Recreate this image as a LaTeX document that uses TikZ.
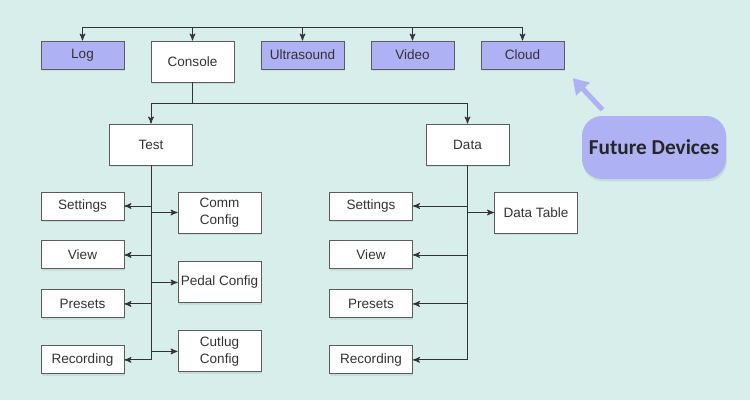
\documentclass[tikz,border=0pt]{standalone}
\usepackage{fontspec}
\setmainfont{Liberation Sans}
\newfontfamily\calfont{Carlito}
\usepackage{tikz}
\usetikzlibrary{arrows,arrows.meta}
\usetikzlibrary{positioning,shadows}
\definecolor{bgteal}{HTML}{D8EEEB}
\definecolor{lavender}{HTML}{AEB1F4}
\definecolor{linegray}{HTML}{333333}
\tikzset{
    box/.style={
           rectangle,
           draw=linegray!80, line width=0.55pt,
           fill=white,
           minimum width=1.66cm,
           minimum height=0.56cm,
           inner xsep=1pt,
           align=center,
           text=linegray,
           font=\fontsize{7.7}{9.5}\selectfont,
           drop shadow={shadow xshift=0.5pt, shadow yshift=-1.4pt,
                        opacity=0.07, fill=black},
           },
    tallbox/.style={box, minimum height=0.82cm},
    device/.style={box, fill=lavender},
    future/.style={
           rectangle,
           rounded corners=0.4cm,
           fill=lavender,
           minimum width=2.88cm,
           minimum height=1.26cm,
           text=black!85,
           font=\calfont\bfseries\fontsize{12.1}{14}\selectfont,
           drop shadow={shadow xshift=0.5pt, shadow yshift=-1.4pt,
                        opacity=0.07, fill=black},
           },
}

\begin{document}
\begin{tikzpicture}[x=0.02cm,y=-0.02cm,->,>=stealth',linegray,line width=0.5pt]
 \fill[-,bgteal] (0,0) rectangle (750,400);

 % top row
 \node[device] (log) at (82.5,55) {Log};
 \node[tallbox] (console) at (192.5,61.5) {Console};
 \node[device] (ultra) at (302.5,55) {Ultrasound};
 \node[device] (video) at (412.5,55) {Video};
 \node[device] (cloud) at (522.5,55) {Cloud};
 \coordinate (busL) at (82.5,27);
 \coordinate (busR) at (522.5,27);

 % second row
 \node[tallbox] (test) at (151,144.5) {Test};
 \node[tallbox] (data) at (467.5,144.5) {Data};
 \coordinate (split) at (192.5,103);

 % test children
 \node[box] (setL) at (82.5,206) {Settings};
 \node[box, below=0.4cm of setL] (viewL) {View};
 \node[box, below=0.4cm of viewL] (preL) {Presets};
 \node[box, below=0.54cm of preL] (recL) {Recording};
 \node[tallbox] (comm) at (219.5,212.5) {Comm\\Config};
 \node[tallbox, below=0.56cm of comm] (pedal) {Pedal Config};
 \node[tallbox, below=0.54cm of pedal] (cutlug) {Cutlug\\Config};

 % data children
 \node[box] (setR) at (371,206) {Settings};
 \node[box, below=0.4cm of setR] (viewR) {View};
 \node[box, below=0.4cm of viewR] (preR) {Presets};
 \node[box, below=0.54cm of preR] (recR) {Recording};
 \node[tallbox] (table) at (536,212.5) {Data Table};

 \node[future] (future) at (654,147.5) {Future Devices};

 % draw the bus and the trunks
 \draw[-] (busL) -- (busR);
 \draw (console) -- (split) -| (test);
 \draw (split) -| (data);
 \draw[-] (test) -- (test |- recL);
 \draw[-] (data) -- (data |- recR);
\path
  (log.north |- busL) edge (log)
  (console.north |- busL) edge (console)
  (ultra.north |- busL) edge (ultra)
  (video.north |- busL) edge (video)
  (cloud.north |- busL) edge (cloud)
  (test |- setL) edge (setL)
  (test |- viewL) edge (viewL)
  (test |- preL) edge (preL)
  (test |- recL) edge (recL)
  (test |- comm) edge (comm)
  (test |- pedal) edge (pedal)
  (test |- cutlug) edge (cutlug)
  (data |- setR) edge (setR)
  (data |- viewR) edge (viewR)
  (data |- preR) edge (preR)
  (data |- recR) edge (recR)
  (data |- table) edge (table)
 ;
 \draw[lavender, line width=0.1cm, -{Triangle[length=0.3cm,width=0.36cm]},
       shorten <=0.16cm, shorten >=0.24cm]
   ([xshift=-0.92cm]future.north) -- (cloud.south east);
\end{tikzpicture}
\end{document}
